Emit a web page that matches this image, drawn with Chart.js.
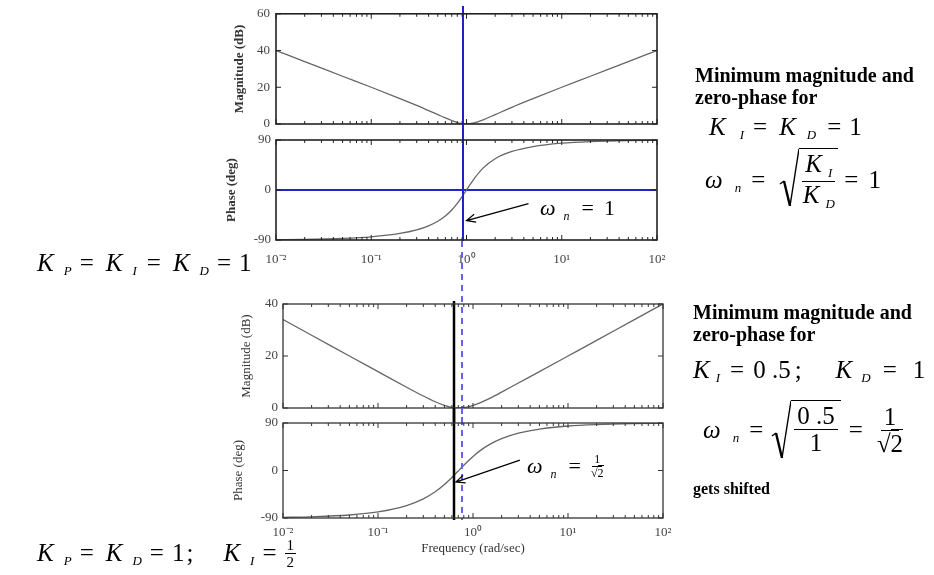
<!DOCTYPE html>
<html>
<head>
<meta charset="utf-8">
<script src="https://cdn.jsdelivr.net/npm/chart.js@4.4.0/dist/chart.umd.min.js"></script>
<style>
  html, body { margin: 0; padding: 0; background: #fff; }
  #stage { position: relative; width: 934px; height: 575px; overflow: hidden; }
  #stage canvas { position: absolute; left: 0; top: 0; }
  .txt { position: absolute; font-family: "Liberation Serif", "Times New Roman", serif; color: #000; white-space: nowrap; }
  .bold { font-weight: bold; font-size: 20px; line-height: 22px; }
  .eq { position: absolute; height: 0; display: flex; align-items: center; font-family: "Liberation Serif", serif; font-size: 25px; white-space: nowrap; }
  .eq i { font-style: italic; }
  .eq .s { font-style: italic; font-size: 13px; position: relative; top: 8px; }
  .sqrt { display: flex; align-items: flex-start; }
  .under { border-top: 1.5px solid #000; padding: 2px 3px 0 3px; }
  .frac { display: flex; flex-direction: column; align-items: center; line-height: 26px; }
  .frac .num { border-bottom: 1.5px solid #000; padding: 0 3px; }
  .sfrac { display: flex; flex-direction: column; align-items: center; font-size: 15px; line-height: 16px; }
  .sfrac .num { border-bottom: 1px solid #000; padding: 0 2px; }
</style>
</head>
<body>
<div id="stage">
  <canvas id="topMag"></canvas>
  <canvas id="topPhase"></canvas>
  <canvas id="botMag"></canvas>
  <canvas id="botPhase"></canvas>

  <div class="txt bold" style="left:695px; top:64px;">Minimum magnitude and<br>zero-phase for</div>
  <div class="eq" style="left:709px; top:127px;">
    <i>K</i><span class="s" style="margin-left:14px">I</span><span style="margin-left:9px">=</span><i style="margin-left:12px">K</i><span class="s" style="margin-left:11px">D</span><span style="margin-left:11px">=</span><span style="margin-left:8px">1</span>
  </div>
  <div class="eq" style="left:705px; top:180px;">
    <i>ω</i><span class="s" style="margin-left:12px">n</span><span style="margin-left:10px">=</span>
    <span class="sqrt" style="margin-left:14px">
      <svg width="20" height="60" viewBox="0 0 20 60"><path d="M1 36 L5 33" stroke="#000" stroke-width="1.4" fill="none"/><path d="M5 33 L11 58" stroke="#000" stroke-width="2.4" fill="none"/><path d="M11 58 L20 0.75" stroke="#000" stroke-width="1.4" fill="none"/></svg>
      <span class="under"><span class="frac"><span class="num"><i>K</i><span class="s" style="margin-left:6px; top:5px">I</span></span><span><i>K</i><span class="s" style="margin-left:6px; top:5px">D</span></span></span></span>
    </span>
    <span style="margin-left:6px">=</span><span style="margin-left:10px">1</span>
  </div>

  <div class="txt bold" style="left:693px; top:301px;">Minimum magnitude and<br>zero-phase for</div>
  <div class="eq" style="left:693px; top:370px;">
    <i>K</i><span class="s" style="margin-left:6px">I</span><span style="margin-left:10px">=</span><span style="margin-left:9px">0 .5</span><span style="margin-left:4px">;</span>
    <i style="margin-left:34px">K</i><span class="s" style="margin-left:9px">D</span><span style="margin-left:12px">=</span><span style="margin-left:16px">1</span>
  </div>
  <div class="eq" style="left:703px; top:430px;">
    <i>ω</i><span class="s" style="margin-left:12px">n</span><span style="margin-left:10px">=</span>
    <span class="sqrt" style="margin-left:8px">
      <svg width="20" height="60" viewBox="0 0 20 60"><path d="M1 36 L5 33" stroke="#000" stroke-width="1.4" fill="none"/><path d="M5 33 L11 58" stroke="#000" stroke-width="2.4" fill="none"/><path d="M11 58 L20 0.75" stroke="#000" stroke-width="1.4" fill="none"/></svg>
      <span class="under"><span class="frac"><span class="num">0 .5</span><span>1</span></span></span>
    </span>
    <span style="margin-left:8px">=</span>
    <span class="frac" style="margin-left:14px"><span class="num">1</span><span>√<span style="border-top:1.5px solid #000">2</span></span></span>
  </div>
  <div class="txt" style="left:693px; top:480px; font-weight:bold; font-size:16px;">gets shifted</div>

  <div class="eq" style="left:37px; top:263px;">
    <i>K</i><span class="s" style="margin-left:10px">P</span><span style="margin-left:8px">=</span><i style="margin-left:12px">K</i><span class="s" style="margin-left:10px">I</span><span style="margin-left:10px">=</span><i style="margin-left:12px">K</i><span class="s" style="margin-left:10px">D</span><span style="margin-left:8px">=</span><span style="margin-left:8px">1</span>
  </div>
  <div class="eq" style="left:37px; top:553px;">
    <i>K</i><span class="s" style="margin-left:10px">P</span><span style="margin-left:8px">=</span><i style="margin-left:12px">K</i><span class="s" style="margin-left:10px">D</span><span style="margin-left:8px">=</span><span style="margin-left:8px">1</span><span style="margin-left:2px">;</span>
    <i style="margin-left:30px">K</i><span class="s" style="margin-left:10px">I</span><span style="margin-left:8px">=</span>
    <span class="sfrac" style="margin-left:8px"><span class="num">1</span><span>2</span></span>
  </div>

  <div class="eq" style="left:540px; top:208px; font-size:22px;">
    <i>ω</i><span class="s" style="margin-left:8px; font-size:12px">n</span><span style="margin-left:12px">=</span><span style="margin-left:10px">1</span>
  </div>
  <div class="eq" style="left:527px; top:466px; font-size:22px;">
    <i>ω</i><span class="s" style="margin-left:8px; font-size:12px">n</span><span style="margin-left:12px">=</span>
    <span class="sfrac" style="margin-left:10px; font-size:12px; line-height:13px"><span class="num">1</span><span>√<span style="border-top:1px solid #000">2</span></span></span>
  </div>
</div>

<script>
// frequency axis (rad/sec), log scale
const freq = [0.01, 0.02, 0.05, 0.1, 0.2, 0.3, 0.4, 0.5, 0.6, 0.7, 0.8, 0.9, 1, 1.2, 1.5, 2, 3, 5, 10, 20, 50, 100];

// K_P = K_I = K_D = 1
const magTop = [40.0, 34.0, 26.0, 20.0, 13.8, 10.1, 7.3, 5.1, 3.3, 1.9, 0.8, 0.2, 0, 0.6, 2.3, 5.1, 9.1, 13.8, 20.0, 26.0, 34.0, 40.0];
const phaseTop = [-89.4, -88.9, -87.1, -84.2, -78.2, -71.8, -64.5, -56.3, -46.9, -36.1, -24.2, -11.9, 0, 20.1, 39.8, 56.3, 69.4, 78.2, 84.2, 87.1, 88.9, 89.4];

// K_P = K_D = 1, K_I = 0.5
const magBot = [34.0, 28.0, 20.0, 14.0, 8.0, 4.6, 2.4, 1.0, 0.2, 0.0, 0.1, 0.5, 1.0, 2.1, 3.7, 6.1, 9.6, 14.0, 20.0, 26.0, 34.0, 40.0];
const phaseBot = [-88.9, -87.7, -84.3, -78.5, -66.5, -53.8, -40.4, -26.6, -13.1, -0.8, 9.9, 19.0, 26.6, 38.1, 49.4, 60.3, 70.6, 78.5, 84.3, 87.1, 88.9, 89.4];

const decades = [0.01, 0.1, 1, 10, 100];
const decadeLabels = ['10⁻²', '10⁻¹', '10⁰', '10¹', '10²'];
const magTopTicks = [0, 20, 40, 60];
const magBotTicks = [0, 20, 40];
const phaseTicks = [-90, 0, 90];

// marker positions
const topMarker = 0.91;     // solid blue line, top pair
const dashMarker = 0.77;    // dashed continuation, bottom pair
const botMarker = 0.63;     // black line, bottom pair

const W = 934, H = 575;
const serif = 'Liberation Serif';
const minorTicks = [];
decades.slice(0, -1).forEach(d => { for (let k = 2; k <= 9; k++) minorTicks.push(k * d); });

const pts = (ys) => ys.map((v, i) => ({ x: freq[i], y: v }));

const panelPlugin = {
  id: 'panel',
  afterDatasetsDraw(chart, args, o) {
    const { ctx, chartArea: a, scales: { x, y } } = chart;
    ctx.save();
    (o.vLines || []).forEach(l => {
      const px = Math.round(x.getPixelForValue(l.value));
      ctx.beginPath();
      ctx.strokeStyle = l.color;
      ctx.lineWidth = l.width;
      ctx.setLineDash(l.dash || []);
      ctx.moveTo(px, l.from);
      ctx.lineTo(px, l.to);
      ctx.stroke();
    });
    ctx.setLineDash([]);

    ctx.strokeStyle = o.frame;
    ctx.lineWidth = o.frameWidth;
    ctx.strokeRect(a.left, a.top, a.right - a.left, a.bottom - a.top);

    ctx.lineWidth = 1;
    ctx.beginPath();
    const xt = (v, len) => {
      const px = x.getPixelForValue(v);
      ctx.moveTo(px, a.bottom); ctx.lineTo(px, a.bottom - len);
      ctx.moveTo(px, a.top); ctx.lineTo(px, a.top + len);
    };
    decades.forEach(v => xt(v, 5));
    minorTicks.forEach(v => xt(v, 3));
    o.yTicks.forEach(v => {
      const py = y.getPixelForValue(v);
      ctx.moveTo(a.left, py); ctx.lineTo(a.left + 5, py);
      ctx.moveTo(a.right, py); ctx.lineTo(a.right - 5, py);
    });
    ctx.stroke();

    (o.arrows || []).forEach(ar => {
      const tx = x.getPixelForValue(ar.x), ty = y.getPixelForValue(ar.y);
      const sx = tx + ar.dx, sy = ty + ar.dy;
      ctx.strokeStyle = '#000';
      ctx.lineWidth = 1.2;
      ctx.beginPath();
      ctx.moveTo(sx, sy); ctx.lineTo(tx, ty);
      const ang = Math.atan2(ty - sy, tx - sx);
      const L = 9, S = 4;
      ctx.moveTo(tx - L * Math.cos(ang) + S * Math.sin(ang), ty - L * Math.sin(ang) - S * Math.cos(ang));
      ctx.lineTo(tx, ty);
      ctx.lineTo(tx - L * Math.cos(ang) - S * Math.sin(ang), ty - L * Math.sin(ang) + S * Math.cos(ang));
      ctx.stroke();
    });
    ctx.restore();
  }
};

function makePanel(id, cfg) {
  const canvas = document.getElementById(id);
  canvas.width = W;
  canvas.height = H;
  const a = cfg.area;
  const tickFont = { family: serif, size: 13 };
  return new Chart(canvas, {
    type: 'line',
    data: { datasets: cfg.datasets },
    options: {
      responsive: false,
      animation: false,
      events: [],
      layout: { padding: { left: a.left - cfg.yW, top: a.top, right: W - a.right, bottom: H - a.bottom - cfg.xH } },
      elements: { point: { radius: 0 } },
      plugins: {
        legend: { display: false },
        tooltip: { enabled: false },
        panel: cfg.panel
      },
      scales: {
        x: {
          type: 'logarithmic',
          min: 0.01,
          max: 100,
          display: cfg.xH > 0,
          afterFit: (s) => { if (cfg.xH > 0) s.height = cfg.xH; },
          afterBuildTicks: (s) => { s.ticks = decades.map(v => ({ value: v })); },
          grid: { display: false, drawTicks: false },
          border: { display: false },
          ticks: {
            font: tickFont,
            color: '#444',
            padding: cfg.xPad || 10,
            maxRotation: 0,
            autoSkip: false,
            callback: (v) => { const i = decades.indexOf(v); return i >= 0 ? decadeLabels[i] : ''; }
          },
          title: cfg.xTitle ? {
            display: true,
            text: cfg.xTitle,
            font: { family: serif, size: 13 },
            color: '#333',
            padding: { top: 0, bottom: cfg.xTitlePad }
          } : { display: false }
        },
        y: {
          min: cfg.yMin,
          max: cfg.yMax,
          afterFit: (s) => { s.width = cfg.yW; },
          afterBuildTicks: (s) => { s.ticks = cfg.yTicks.map(v => ({ value: v })); },
          grid: { display: false, drawTicks: false },
          border: { display: false },
          ticks: { font: tickFont, color: '#444', padding: cfg.yPad, callback: (v) => String(v) },
          title: {
            display: true,
            text: cfg.yTitle,
            font: { family: serif, size: 13, weight: cfg.bold ? 'bold' : 'normal' },
            color: '#333',
            padding: { top: cfg.yTitlePad, bottom: 0 }
          }
        }
      }
    },
    plugins: [panelPlugin]
  });
}

const curve = (data) => ({
  data: pts(data),
  borderColor: '#666',
  borderWidth: 1.3,
  cubicInterpolationMode: 'monotone',
  pointRadius: 0
});

makePanel('topMag', {
  area: { left: 276, right: 657, top: 12, bottom: 124 },
  yW: 56, xH: 0, yPad: 6, yTitlePad: 12, bold: true,
  yMin: 0, yMax: 60, yTicks: magTopTicks, yTitle: 'Magnitude (dB)',
  datasets: [curve(magTop)],
  panel: { yTicks: magTopTicks, frame: '#222', frameWidth: 1.6,
    vLines: [{ value: topMarker, from: 6, to: 132, color: '#2222cc', width: 2 }] }
});

makePanel('topPhase', {
  area: { left: 276, right: 657, top: 140, bottom: 240 },
  yW: 56, xH: 45, xPad: 12, yPad: 5, yTitlePad: 4, bold: true,
  yMin: -90, yMax: 90, yTicks: phaseTicks, yTitle: 'Phase (deg)',
  datasets: [
    curve(phaseTop),
    { data: [{ x: 0.01, y: 0 }, { x: 98, y: 0 }], borderColor: '#2323cc', borderWidth: 2, pointRadius: 0 }
  ],
  panel: { yTicks: phaseTicks, frame: '#222', frameWidth: 1.6,
    vLines: [{ value: topMarker, from: 124, to: 241, color: '#2222cc', width: 2 }],
    arrows: [{ x: 1, y: -55, dx: 62, dy: -17 }] }
});

makePanel('botMag', {
  area: { left: 283, right: 663, top: 304, bottom: 408 },
  yW: 56, xH: 0, yPad: 5, yTitlePad: 12, bold: false,
  yMin: 0, yMax: 40, yTicks: magBotTicks, yTitle: 'Magnitude (dB)',
  datasets: [curve(magBot)],
  panel: { yTicks: magBotTicks, frame: '#333', frameWidth: 1.3,
    vLines: [
      { value: dashMarker, from: 241, to: 423, color: '#6464e6', width: 2, dash: [6, 5] },
      { value: botMarker, from: 301, to: 423, color: '#000', width: 2.5 }
    ] }
});

makePanel('botPhase', {
  area: { left: 283, right: 663, top: 423, bottom: 518 },
  yW: 56, xH: 57, xPad: 7, xTitle: 'Frequency (rad/sec)', xTitlePad: 19,
  yPad: 5, yTitlePad: 4, bold: false,
  yMin: -90, yMax: 90, yTicks: phaseTicks, yTitle: 'Phase (deg)',
  datasets: [curve(phaseBot)],
  panel: { yTicks: phaseTicks, frame: '#333', frameWidth: 1.3,
    vLines: [
      { value: dashMarker, from: 408, to: 520, color: '#6464e6', width: 2, dash: [6, 5] },
      { value: botMarker, from: 408, to: 520, color: '#000', width: 2.5 }
    ],
    arrows: [{ x: 0.66, y: -22, dx: 64, dy: -22 }] }
});
</script>
</body>
</html>
